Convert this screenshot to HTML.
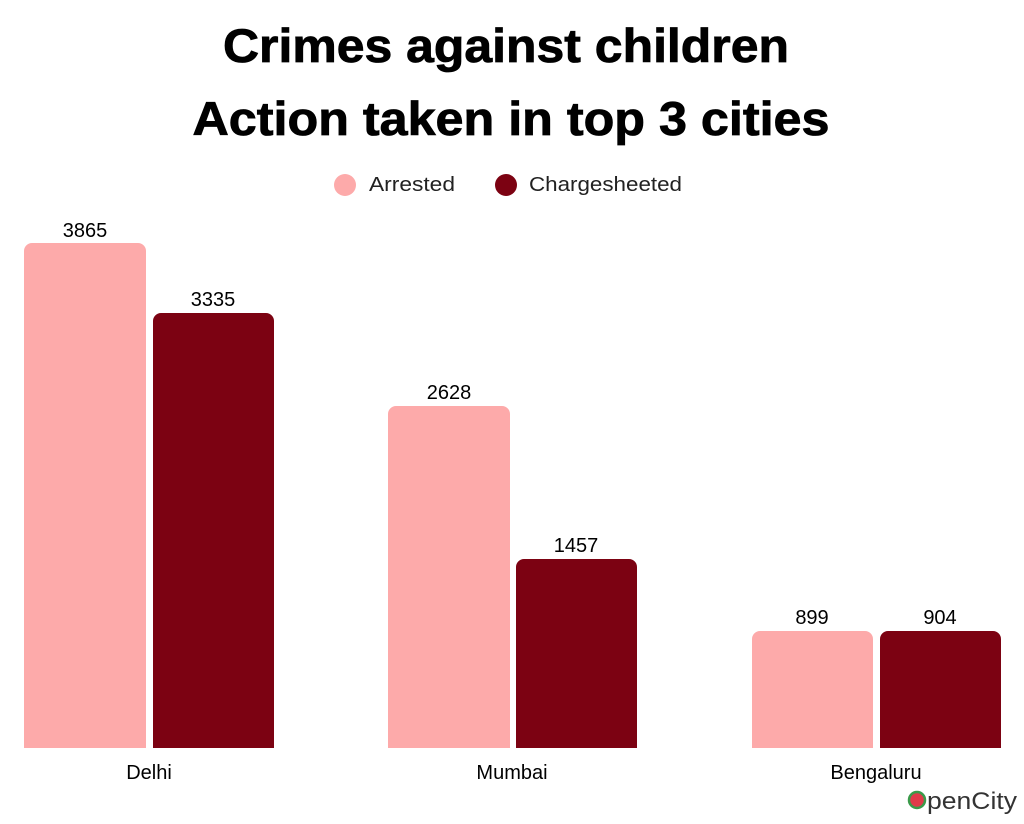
<!DOCTYPE html>
<html><head><style>body{margin:0;background:#fff}</style></head><body>
<svg width="1024" height="819" xmlns="http://www.w3.org/2000/svg" font-family="Liberation Sans, sans-serif">
<rect width="1024" height="819" fill="#fff"/>
<text x="506" y="62" text-anchor="middle" font-size="47" font-weight="bold" fill="#000" textLength="566" lengthAdjust="spacingAndGlyphs" stroke="#000" stroke-width="0.8">Crimes against children</text>
<text x="511" y="135" text-anchor="middle" font-size="47" font-weight="bold" fill="#000" textLength="637" lengthAdjust="spacingAndGlyphs" stroke="#000" stroke-width="0.8">Action taken in top 3 cities</text>
<circle cx="345" cy="185" r="11" fill="#fdaaaa"/>
<text x="369" y="191" font-size="20" fill="#222" textLength="86" lengthAdjust="spacingAndGlyphs">Arrested</text>
<circle cx="506" cy="185" r="11" fill="#7c0212"/>
<text x="529" y="191" font-size="20" fill="#222" textLength="153" lengthAdjust="spacingAndGlyphs">Chargesheeted</text>
<g>
<path d="M24 748V251a8 8 0 0 1 8-8h106a8 8 0 0 1 8 8V748z" fill="#fdaaaa"/>
<path d="M153 748V321a8 8 0 0 1 8-8h105a8 8 0 0 1 8 8V748z" fill="#7c0212"/>
<path d="M388 748V414a8 8 0 0 1 8-8h106a8 8 0 0 1 8 8V748z" fill="#fdaaaa"/>
<path d="M516 748V567a8 8 0 0 1 8-8h105a8 8 0 0 1 8 8V748z" fill="#7c0212"/>
<path d="M752 748V639a8 8 0 0 1 8-8h105a8 8 0 0 1 8 8V748z" fill="#fdaaaa"/>
<path d="M880 748V639a8 8 0 0 1 8-8h105a8 8 0 0 1 8 8V748z" fill="#7c0212"/>
</g>
<g font-size="20" fill="#000" text-anchor="middle">
<text x="85" y="237">3865</text>
<text x="213" y="306">3335</text>
<text x="449" y="399">2628</text>
<text x="576" y="552">1457</text>
<text x="812" y="624">899</text>
<text x="940" y="624">904</text>
<text x="149" y="779">Delhi</text>
<text x="512" y="779">Mumbai</text>
<text x="876" y="779">Bengaluru</text>
</g>
<circle cx="917" cy="800" r="8" fill="#e03a4a" stroke="#3a9a4a" stroke-width="2.5"/>
<text x="927" y="809" font-size="24" fill="#333" textLength="90" lengthAdjust="spacingAndGlyphs">penCity</text>
</svg>
</body></html>
